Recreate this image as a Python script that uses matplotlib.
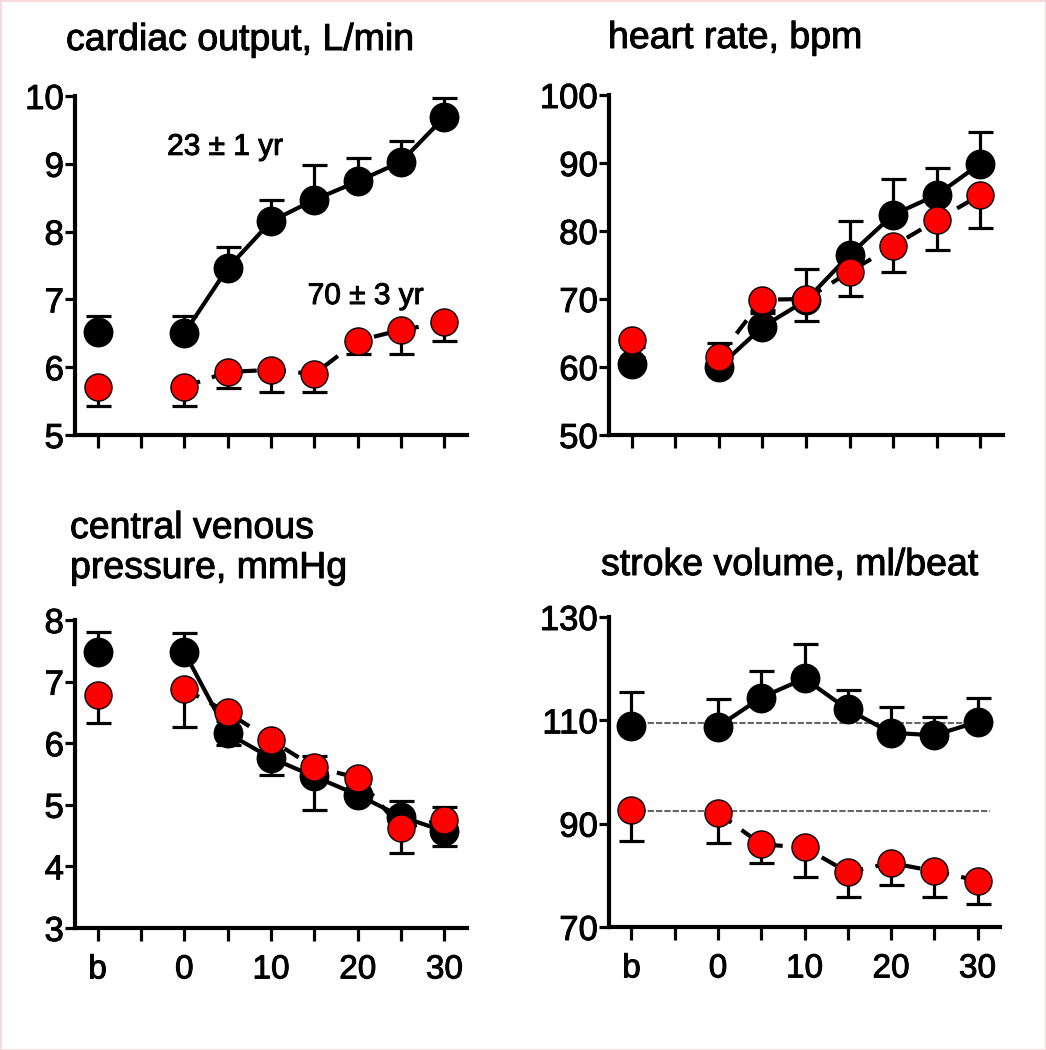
import matplotlib
matplotlib.use("Agg")
import matplotlib.pyplot as plt
from matplotlib.patches import Rectangle
import matplotlib.patheffects as pe
import numpy as np

plt.rcParams['font.family'] = ['Liberation Sans', 'DejaVu Sans']

# ---- data ----
tick_pos = [-10, -5, 0, 5, 10, 15, 20, 25, 30]
tick_labels = ['b', '', '0', '', '10', '', '20', '', '30']
base_x = -10
minutes = [0, 5, 10, 15, 20, 25, 30]

co_young = [6.52, 6.50, 7.46, 8.15, 8.47, 8.74, 9.03, 9.69]
co_young_err = [0.23, 0.25, 0.31, 0.32, 0.51, 0.34, 0.30, 0.28]
co_old = [5.71, 5.71, 5.93, 5.96, 5.90, 6.39, 6.55, 6.66]
co_old_err = [0.28, 0.28, 0.23, 0.32, 0.26, 0.20, 0.35, 0.28]

hr_young = [60.5, 60.0, 65.9, 69.8, 76.5, 82.4, 85.3, 89.9]
hr_young_err = [1.0, 3.6, 2.0, 4.6, 4.9, 5.2, 3.9, 4.6]
hr_old = [64.0, 61.5, 69.9, 70.0, 74.0, 77.8, 81.6, 85.3]
hr_old_err = [1.0, 1.0, 1.5, 3.3, 3.6, 3.8, 4.4, 4.9]

cvp_young = [7.48, 7.48, 6.16, 5.76, 5.46, 5.16, 4.81, 4.57]
cvp_young_err = [0.33, 0.31, 0.20, 0.20, 0.34, 0.20, 0.25, 0.39]
cvp_old = [6.78, 6.88, 6.50, 6.05, 5.61, 5.44, 4.62, 4.76]
cvp_old_err = [0.45, 0.61, 0.53, 0.56, 0.69, 0.35, 0.40, 0.43]

sv_young = [109.0, 108.8, 114.4, 118.1, 112.1, 107.6, 107.1, 109.7]
sv_young_err = [6.4, 5.4, 5.1, 6.7, 3.7, 5.0, 3.5, 4.7]
sv_old = [92.6, 92.1, 86.0, 85.4, 80.6, 82.4, 80.8, 79.0]
sv_old_err = [5.9, 5.8, 3.7, 5.8, 4.8, 4.3, 5.0, 4.6]
sv_ref = [109.5, 92.5]

W, H = 1046, 1050
fig = plt.figure(figsize=(W / 100, H / 100), dpi=100)
fig.patch.set_facecolor('white')
fig.patches.append(Rectangle((0, 0), 1, 1, transform=fig.transFigure,
                             fill=False, edgecolor='#f7d6dc', lw=2))

thick = [pe.withStroke(linewidth=0.7, foreground='black')]


def box(l, r, t, b):
    return [l / W, 1 - b / H, (r - l) / W, (b - t) / H]


def panel(rect, young, yerr, old, oerr, ylim, yticks, xlabels):
    ax = fig.add_axes(rect)
    xs = [base_x] + minutes
    z = np.zeros(len(xs))
    # young (black): line, errors up, markers
    ax.plot(minutes, young[1:], color='black', lw=3, zorder=2,
            solid_capstyle='round')
    ax.errorbar(xs, young, yerr=[z, yerr], fmt='none', ecolor='black',
                elinewidth=2.3, capsize=9, capthick=2.3, zorder=2)
    ax.plot(xs, young, 'o', color='black', ms=20.5, zorder=3)
    # old (red): dashed line, errors down, markers
    ax.plot(minutes, old[1:], color='black', lw=3, ls=(0, (4, 3)),
            zorder=4)
    ax.errorbar(xs, old, yerr=[oerr, z], fmt='none', ecolor='black',
                elinewidth=2.3, capsize=9, capthick=2.3, zorder=4)
    ax.plot(xs, old, 'o', color='#ff0000', mec='black', mew=1.0, ms=19.5,
            zorder=5)
    ax.set_xlim(-12.6, 32.6)
    ax.set_ylim(*ylim)
    ax.set_yticks(yticks)
    ax.set_yticklabels([str(v) for v in yticks])
    ax.set_xticks(tick_pos)
    if xlabels:
        ax.set_xticklabels(tick_labels)
    else:
        ax.set_xticklabels([])
    for s in ['top', 'right']:
        ax.spines[s].set_visible(False)
    for s in ['left', 'bottom']:
        ax.spines[s].set_linewidth(3)
    ax.tick_params(axis='y', length=7, width=2.3, labelsize=25, pad=1)
    ax.tick_params(axis='x', length=9, width=2.3, labelsize=24, pad=10)
    for lab in ax.get_xticklabels() + ax.get_yticklabels():
        lab.set_path_effects(thick)
    ax.set_facecolor('none')
    return ax


ax1 = panel(box(75, 467, 96, 435), co_young, co_young_err, co_old, co_old_err,
            (5, 10), [5, 6, 7, 8, 9, 10], False)
ax1.text(4.7, 9.25, '23 \u00b1 1 yr', fontsize=21.5, va='center', ha='center',
         path_effects=thick)
ax1.text(20.9, 7.05, '70 \u00b1 3 yr', fontsize=21.5, va='center', ha='center',
         path_effects=thick)

ax2 = panel(box(609, 1003, 95, 435), hr_young, hr_young_err, hr_old, hr_old_err,
            (50, 100), [50, 60, 70, 80, 90, 100], False)

ax3 = panel(box(75, 467, 620, 928), cvp_young, cvp_young_err, cvp_old, cvp_old_err,
            (3, 8), [3, 4, 5, 6, 7, 8], True)

ax4 = panel(box(609, 1000, 617, 927), sv_young, sv_young_err, sv_old, sv_old_err,
            (70, 130), [70, 90, 110, 130], True)
for v in sv_ref:
    ax4.plot([-10, 31.5], [v, v], color='#666666', lw=1.5, ls=(0, (3, 1)),
             zorder=1)

tfs = 27
for x, y, s in [(66, 40, 'cardiac output, L/min'),
                (608, 38, 'heart rate, bpm'),
                (70, 528, 'central venous'),
                (70, 568, 'pressure, mmHg'),
                (601, 565, 'stroke volume, ml/beat')]:
    fig.text(x / W, 1 - y / H, s, fontsize=tfs, va='center', path_effects=thick)

fig.savefig('out.png', dpi=100)
